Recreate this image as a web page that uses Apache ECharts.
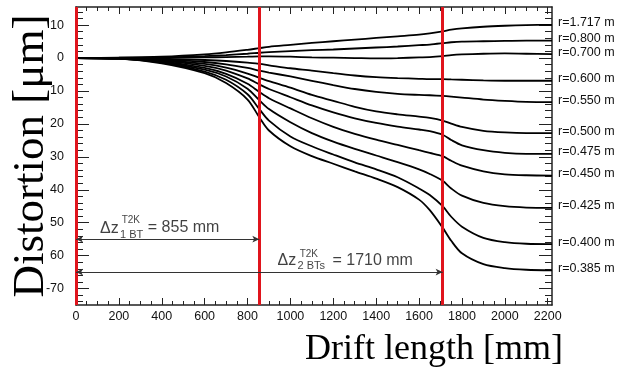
<!DOCTYPE html>
<html>
<head>
<meta charset="utf-8">
<script src="https://cdn.jsdelivr.net/npm/echarts@6/dist/echarts.min.js"></script>
<style>
  html, body { margin: 0; padding: 0; background: #fff; }
  #chart { width: 634px; height: 375px; }
</style>
</head>
<body>
<div id="chart"></div>
<script>
// drift length sample points (mm)
const xs = [0, 200, 400, 600, 700, 800, 855, 900, 1000, 1100, 1200, 1300, 1400, 1500, 1600, 1650, 1710, 1750, 1800, 1900, 2000, 2100, 2220];

const curveNames = ['r=1.717 m', 'r=0.800 m', 'r=0.700 m', 'r=0.600 m', 'r=0.550 m', 'r=0.500 m',
  'r=0.475 m', 'r=0.450 m', 'r=0.425 m', 'r=0.400 m', 'r=0.385 m'];

// distortion (um) for each radius, read at xs
const r1717 = [0, 0.1, 0.4, 1.1, 1.7, 2.5, 3.0, 3.4, 4.0, 4.6, 5.1, 5.6, 6.1, 6.6, 7.1, 7.5, 8.1, 8.6, 9.0, 9.5, 9.8, 10.0, 10.1];
const r800 = [0, 0.1, 0.2, 0.6, 0.9, 1.3, 1.6, 1.8, 2.1, 2.4, 2.6, 2.9, 3.2, 3.5, 3.9, 4.1, 4.5, 4.8, 5.0, 5.1, 5.2, 5.3, 5.3];
const r700 = [0, 0, 0.1, 0.2, 0.3, 0.4, 0.5, 0.5, 0.4, 0.2, 0.1, 0.0, -0.1, 0.0, 0.2, 0.3, 0.6, 0.9, 1.1, 1.3, 1.4, 1.3, 1.2];
const r600 = [0, 0, -0.2, -0.6, -0.9, -1.4, -1.8, -2.2, -3.1, -3.8, -4.6, -5.3, -5.8, -6.1, -6.3, -6.4, -6.4, -6.5, -6.6, -6.8, -6.9, -6.9, -6.9];
const r550 = [0, -0.1, -0.4, -1.2, -1.9, -3.0, -3.8, -4.4, -5.6, -6.9, -8.2, -9.4, -10.3, -10.9, -11.2, -11.3, -11.5, -11.7, -12.0, -12.6, -13.0, -13.3, -13.4];
const r500 = [0, -0.1, -0.6, -1.8, -2.9, -4.7, -6.0, -7.0, -9.0, -11.2, -13.0, -14.8, -16.2, -17.1, -17.8, -18.2, -19.0, -19.9, -20.9, -22.1, -22.6, -22.8, -22.8];
const r475 = [0, -0.1, -0.8, -2.4, -3.8, -6.2, -8.0, -9.4, -11.9, -14.4, -16.5, -18.3, -19.7, -20.8, -21.7, -22.2, -23.3, -24.9, -26.5, -28.0, -28.8, -29.1, -29.1];
const r450 = [0, -0.2, -1.0, -3.0, -4.8, -7.8, -10.3, -12.2, -15.3, -18.3, -20.9, -23.0, -24.8, -26.4, -28.0, -28.8, -29.8, -31.2, -32.7, -34.4, -35.3, -35.6, -35.7];
const r425 = [0, -0.2, -1.2, -3.5, -5.6, -9.3, -12.8, -15.5, -19.5, -22.8, -25.4, -27.6, -29.6, -31.6, -33.8, -35.2, -37.3, -39.6, -41.8, -44.0, -45.0, -45.4, -45.5];
const r400 = [0, -0.2, -1.4, -4.1, -6.6, -11.0, -15.5, -19.0, -23.8, -26.8, -29.3, -31.7, -33.8, -36.2, -39.6, -41.6, -45.0, -48.2, -51.2, -54.6, -55.9, -56.4, -56.5];
const r385 = [0, -0.2, -1.6, -4.6, -7.6, -12.6, -18.0, -22.0, -26.8, -29.8, -32.1, -34.4, -36.6, -39.2, -43.0, -46.2, -51.5, -55.5, -59.3, -62.6, -63.8, -64.3, -64.5];
const curves = [r1717, r800, r700, r600, r550, r500, r475, r450, r425, r400, r385];

// axis ticks
const xTicks = [0, 200, 400, 600, 800, 1000, 1200, 1400, 1600, 1800, 2000, 2200];
const yTicks = [-70, -60, -50, -40, -30, -20, -10, 0, 10];
const xMinor = [];
for (let v = 0; v <= 2200; v += 50) xMinor.push(v);
const yMinor = [];
for (let v = -74; v <= 14; v += 2) yMinor.push(v);

// boundaries and arrows
const redLines = [0, 855, 1710];
const arrowEnds = [855, 1710];
const arrowY = [-55, -65];

// annotation pieces: [x, y, text, fontSize]
const notes = [
  [112, -51.9, 'Δz', 16],
  [213, -49.4, 'T2K', 10],
  [205, -53.6, '1 BT', 11],
  [335, -51.6, '= 855 mm', 16],
  [940, -61.5, 'Δz', 16],
  [1043, -59.5, 'T2K', 10],
  [1033, -63.2, '2 BTs', 11],
  [1196, -61.5, '= 1710 mm', 16]
];

const FRAME = '#222';
const SANS = 'Liberation Sans, Arial, sans-serif';
const SERIF = 'Liberation Serif, Times New Roman, serif';
const X_MIN = 0, X_MAX = 2220, Y_MIN = -75, Y_MAX = 15.5;

function yLabel(v) {
  if (v === -70) return '-70';
  return String(Math.abs(v));
}

function xAxisDef(position, ticks, len, showLabel, showLine) {
  return {
    type: 'value', position, min: X_MIN, max: X_MAX,
    axisLine: { show: showLine, onZero: false, lineStyle: { color: FRAME, width: 1.5 } },
    axisTick: { show: true, inside: true, length: len, customValues: ticks, lineStyle: { color: FRAME, width: 1 } },
    axisLabel: showLabel
      ? { show: true, customValues: xTicks, margin: 5, fontSize: 12.5, color: '#111', fontFamily: SANS,
          formatter: (v) => String(v) }
      : { show: false },
    splitLine: { show: false }
  };
}

function yAxisDef(position, ticks, len, showLabel, showLine) {
  return {
    type: 'value', position, min: Y_MIN, max: Y_MAX,
    axisLine: { show: showLine, onZero: false, lineStyle: { color: FRAME, width: 1.5 } },
    axisTick: { show: true, inside: true, length: len, customValues: ticks, lineStyle: { color: FRAME, width: 1 } },
    axisLabel: showLabel
      ? { show: true, customValues: yTicks, margin: 12, fontSize: 12.5, color: '#111', fontFamily: SANS, formatter: yLabel }
      : { show: false },
    splitLine: { show: false }
  };
}

const xAxes = [
  xAxisDef('bottom', xTicks, 7, true, true),
  xAxisDef('bottom', xMinor, 4, false, false),
  xAxisDef('top', xTicks, 7, false, true),
  xAxisDef('top', xMinor, 4, false, false)
];
Object.assign(xAxes[0], {
  name: 'Drift length [mm]', nameLocation: 'middle', nameGap: 27, nameMoveOverlap: false,
  nameTextStyle: { fontFamily: SERIF, fontSize: 36, color: '#000', padding: [0, 0, 0, 240] }
});

const yAxes = [
  yAxisDef('left', yTicks, 13, true, true),
  yAxisDef('left', yMinor, 7, false, false),
  yAxisDef('right', yTicks, 13, false, true),
  yAxisDef('right', yMinor, 7, false, false)
];
Object.assign(yAxes[0], {
  name: 'Distortion [μm]', nameLocation: 'middle', nameGap: 22, nameRotate: 90, nameMoveOverlap: false,
  nameTextStyle: { fontFamily: SERIF, fontSize: 45, color: '#000' }
});

const lineSeries = curveNames.map((name, i) => ({
  type: 'line',
  name,
  data: xs.map((x, j) => [x, curves[i][j]]),
  smooth: 0.3,
  showSymbol: false,
  symbol: 'none',
  z: 2,
  lineStyle: { color: '#000', width: 1.8 },
  endLabel: {
    show: true, formatter: '{a}', distance: 6, offset: [0, -2],
    color: '#111', fontSize: 12.5, fontFamily: SANS
  }
}));

const markData = redLines.map((x) => ({
  xAxis: x, symbol: 'none',
  lineStyle: { color: '#e0141c', width: 3, type: 'solid' }
}));
arrowEnds.forEach((xe, i) => {
  markData.push([
    { coord: [X_MIN, arrowY[i]], symbol: 'arrow', symbolSize: [5, 7] },
    { coord: [xe, arrowY[i]], symbol: 'arrow', symbolSize: [5, 7],
      lineStyle: { color: '#333', width: 1.2, type: 'solid' } }
  ]);
});

const noteSeries = {
  type: 'scatter',
  data: notes.map((n) => ({ value: [n[0], n[1]], text: n[2], label: { fontSize: n[3] } })),
  symbolSize: 1,
  itemStyle: { color: 'rgba(0,0,0,0)' },
  z: 3,
  silent: true,
  label: {
    show: true,
    position: 'inside',
    align: 'left',
    verticalAlign: 'middle',
    color: '#111',
    fontFamily: SANS,
    formatter: (p) => p.data.text
  },
  markLine: {
    silent: true,
    symbol: 'none',
    label: { show: false },
    lineStyle: { color: '#333', width: 1.2, type: 'solid' },
    data: markData
  }
};

const chart = echarts.init(document.getElementById('chart'), null, { renderer: 'canvas' });
chart.setOption({
  animation: false,
  backgroundColor: '#fff',
  grid: { left: 76, right: 82, top: 7, bottom: 70, containLabel: false, outerBoundsMode: 'none' },
  xAxis: xAxes,
  yAxis: yAxes,
  series: [...lineSeries, noteSeries]
});
</script>
</body>
</html>
